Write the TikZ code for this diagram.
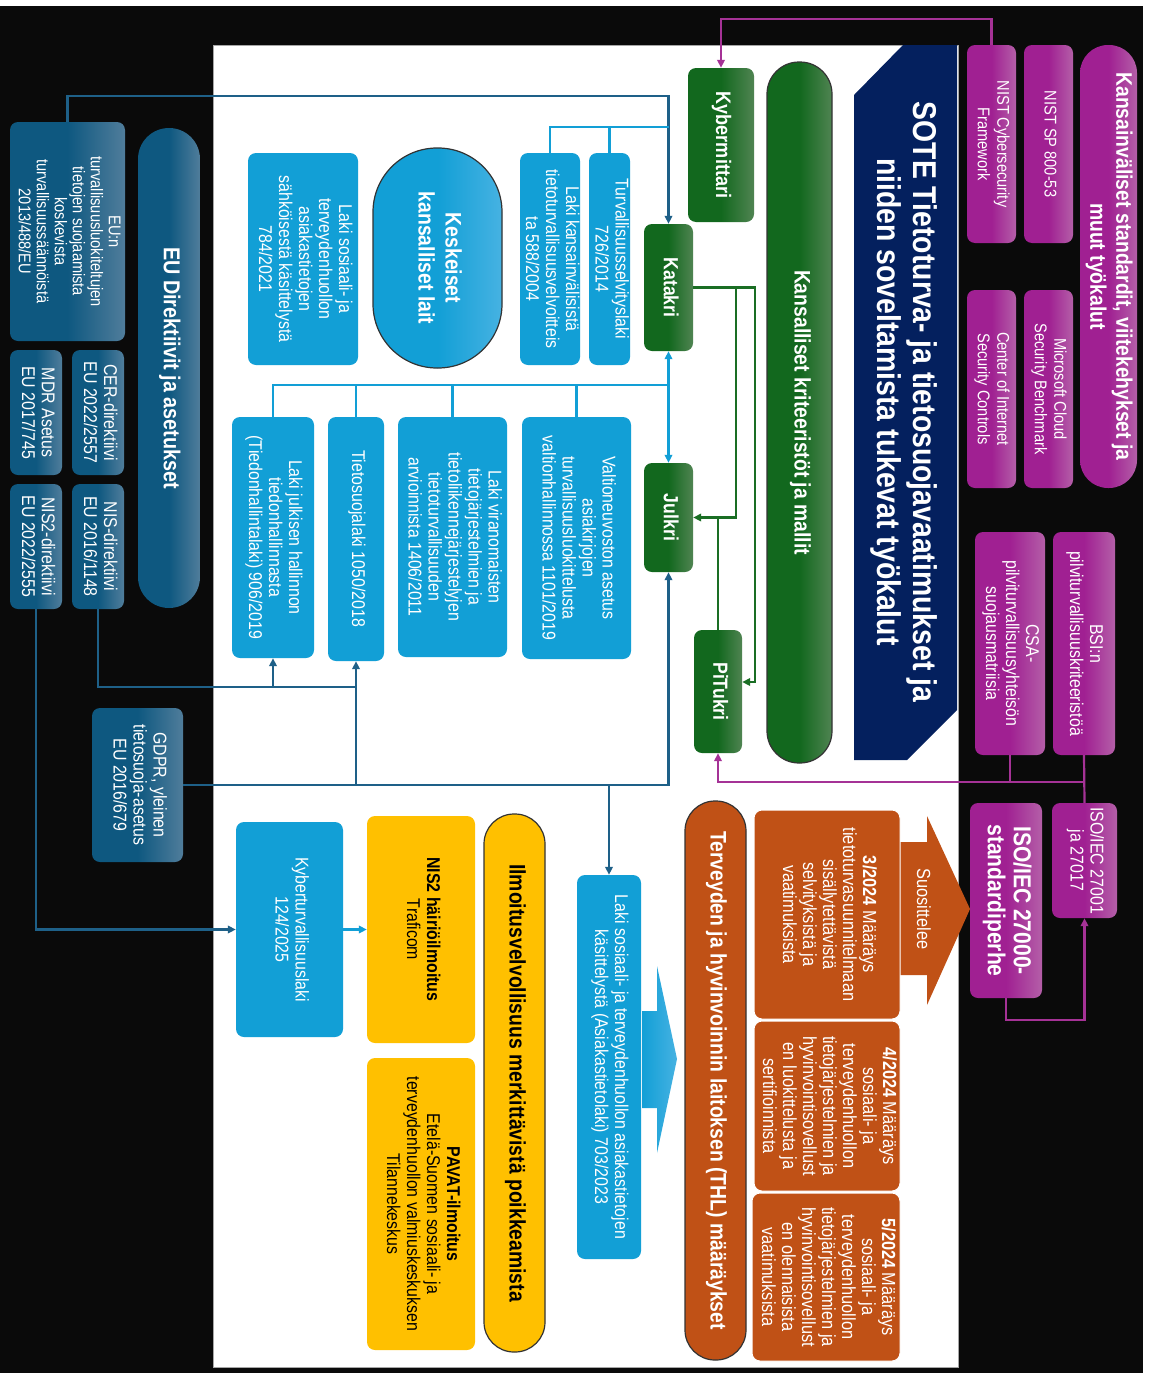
\documentclass[tikz,border=0pt]{standalone}
\usepackage{fontspec}
\setmainfont{Liberation Sans}[FakeStretch=0.86]
\usepackage{graphicx}
\usepackage{xcolor}
\usepackage{tikz}
\usetikzlibrary{arrows.meta,positioning,calc}

\definecolor{bgblack}{RGB}{10,10,10}
\definecolor{purpbase}{RGB}{160,32,146}
\definecolor{purplight}{RGB}{180,95,168}
\definecolor{grnbase}{RGB}{18,104,30}
\definecolor{grnlight}{RGB}{80,132,82}
\definecolor{navyblue}{RGB}{4,32,94}
\definecolor{lblue}{RGB}{18,159,214}
\definecolor{lbluelight}{RGB}{70,178,226}
\definecolor{eubase}{RGB}{14,88,128}
\definecolor{eulight}{RGB}{80,125,155}
\definecolor{thlorange}{RGB}{192,81,22}
\definecolor{ilmyellow}{RGB}{255,192,0}
\definecolor{dlinecol}{RGB}{30,96,136}
\definecolor{plinecol}{RGB}{165,50,150}
\definecolor{glinecol}{RGB}{26,110,36}

% text runs top to bottom in every box
\newcommand{\rottext}[1]{\rotatebox{-90}{\begin{tabular}{@{}c@{}}#1\end{tabular}}}

\tikzset{
  basebox/.style={rectangle, rounded corners=8pt, inner sep=0pt, text=white,
    font=\fontsize{18.5}{20}\selectfont},
  purplebox/.style={basebox, left color=purpbase, right color=purplight, middle color=purpbase},
  greenbox/.style={basebox, left color=grnbase, right color=grnlight, middle color=grnbase,
    font=\bfseries\fontsize{20.5}{23}\selectfont},
  eubox/.style={basebox, left color=eubase, right color=eulight, middle color=eubase},
  lawbox/.style={basebox, fill=lblue},
  yellowbox/.style={basebox, fill=ilmyellow, text=black},
  orangebox/.style={basebox, fill=thlorange, draw=white, line width=1pt,
    font=\fontsize{19}{20}\selectfont},
  pillshape/.style={rounded corners=#1},
  outlined/.style={draw=black!80, line width=1.2pt},
  pline/.style={draw=plinecol, line width=2.2pt},
  gline/.style={draw=glinecol, line width=2.2pt},
  dline/.style={draw=dlinecol, line width=2.2pt},
  bline/.style={draw=lblue, line width=2.2pt},
}

\begin{document}
\begin{tikzpicture}[x=1pt, y=-1pt, >={Triangle[length=8pt,width=7.5pt]}]
    \useasboundingbox (0,0) rectangle (1153,1373);
    \fill[white] (0,0) rectangle (1153,1373);
    \fill[bgblack] (0,6) rectangle (1143,1373);
    \filldraw[white, draw=gray!70] (213,45) rectangle (958,1367);

    % Title panel
    \fill[navyblue] (854,95) -- (903,45) -- (957,45) -- (957,710) -- (907,760) -- (854,760) -- cycle;
    \node[text=white, inner sep=0pt, font=\bfseries\fontsize{33}{36}\selectfont] (title) at (903,402)
        {\rottext{SOTE Tietoturva- ja tietosuojavaatimukset ja\\niiden soveltamista tukevat työkalut}};

    % International standards (purple)
    \node[purplebox, pillshape=28, minimum width=57, minimum height=443, font=\bfseries\fontsize{22.5}{26}\selectfont] (intl) at (1108.5,266.5)
        {\rottext{Kansainväliset standardit, viitekehykset ja\\muut työkalut}};
    \node[purplebox, minimum width=49, minimum height=198, font=\fontsize{17}{19.5}\selectfont] (nistsp) at (1048.5,144) {\rottext{NIST SP 800-53}};
    \node[purplebox, minimum width=49, minimum height=198, font=\fontsize{17}{19.5}\selectfont] (nistcsf) at (991.5,144) {\rottext{NIST Cybersecurity\\Framework}};
    \node[purplebox, minimum width=49, minimum height=198, font=\fontsize{17}{19.5}\selectfont] (mcsb) at (1048.5,389) {\rottext{Microsoft Cloud\\Security Benchmark}};
    \node[purplebox, minimum width=49, minimum height=198, font=\fontsize{17}{19.5}\selectfont] (cis) at (991.5,389) {\rottext{Center of Internet\\Security Controls}};
    \node[purplebox, minimum width=62, minimum height=223] (bsi) at (1084,643.5) {\rottext{BSI:n\\pilviturvallisuuskriteeristöä}};
    \node[purplebox, minimum width=70, minimum height=223] (csa) at (1010,643.5) {\rottext{CSA-\\pilviturvallisuusyhteisön\\suojausmatriisia}};
    \node[purplebox, minimum width=65, minimum height=115] (iso27001) at (1084.5,860.5) {\rottext{ISO/IEC 27001\\ja 27017}};
    \node[purplebox, minimum width=72, minimum height=195, font=\bfseries\fontsize{24.5}{26}\selectfont] (iso27000) at (1006,900.5) {\rottext{ISO/IEC 27000-\\standardiperhe}};

    % National criteria (green)
    \node[greenbox, minimum width=66, minimum height=154, font=\bfseries\fontsize{21}{24}\selectfont] (kyber) at (721,145) {\rottext{Kybermittari}};
    \node[greenbox, pillshape=32, outlined, minimum width=65, minimum height=701, font=\bfseries\fontsize{22.5}{25}\selectfont] (kriteerit) at (799.5,412.5)
        {\rottext{Kansalliset kriteeristöt ja mallit}};
    \node[greenbox, minimum width=49, minimum height=127] (katakri) at (668.5,287.5) {\rottext{Katakri}};
    \node[greenbox, minimum width=49, minimum height=109] (julkri) at (668.5,517.5) {\rottext{Julkri}};
    \node[greenbox, minimum width=48, minimum height=123] (pitukri) at (718,691.5) {\rottext{PiTukri}};

    % National laws (light blue)
    \node[lawbox, minimum width=41, minimum height=212] (turvsel) at (609.5,259) {\rottext{Turvallisuusselvityslaki\\726/2014}};
    \node[lawbox, minimum width=58, minimum height=212] (kvlaki) at (550,259) {\rottext{Laki kansainvälisistä\\tietoturvallisuusvelvoitteis\\ta 588/2004}};
    \node[lawbox, pillshape=64, outlined, left color=lblue, right color=lbluelight, middle color=lblue, minimum width=129, minimum height=220,
        font=\bfseries\fontsize{22.5}{27}\selectfont] (keskeiset) at (437.5,258) {\rottext{Keskeiset\\kansalliset lait}};
    \node[lawbox, minimum width=110, minimum height=212] (asiaksahk) at (303,259)
        {\rottext{Laki sosiaali- ja\\terveydenhuollon\\asiakastietojen\\sähköisestä käsittelystä\\784/2021}};
    \node[lawbox, minimum width=109, minimum height=242] (vnasetus) at (576.5,538)
        {\rottext{Valtioneuvoston asetus\\asiakirjojen\\turvallisuusluokittelusta\\valtionhallinnossa 1101/2019}};
    \node[lawbox, minimum width=109, minimum height=240] (viranom) at (452.5,537)
        {\rottext{Laki viranomaisten\\tietojärjestelmien ja\\tietoliikennejärjestelyjen\\tietoturvallisuuden\\arvioinnista 1406/2011}};
    \node[lawbox, minimum width=56, minimum height=244] (tietosuoja) at (356,539) {\rottext{Tietosuojalaki 1050/2018}};
    \node[lawbox, minimum width=82, minimum height=241] (tiedonh) at (273,537.5)
        {\rottext{Laki julkisen hallinnon\\tiedonhallinnasta\\(Tiedonhallintalaki) 906/2019}};
    \node[lawbox, minimum width=64, minimum height=384] (asiakastieto) at (609,1067)
        {\rottext{Laki sosiaali- ja terveydenhuollon asiakastietojen\\käsittelystä (Asiakastietolaki) 703/2023}};
    \node[lawbox, minimum width=107, minimum height=215] (kyberlaki) at (289.5,929.5) {\rottext{Kyberturvallisuuslaki\\124/2025}};
    \shade[left color=lblue, right color=lbluelight] (642,1011) -- (657,1011) -- (657,966) -- (677,1059) -- (657,1153) -- (657,1108) -- (642,1108) -- cycle;

    % EU directives (dark blue)
    \node[eubox, pillshape=31, minimum width=62, minimum height=480, font=\bfseries\fontsize{23}{26}\selectfont] (eutitle) at (169,368)
        {\rottext{EU Direktiivit ja asetukset}};
    \node[eubox, minimum width=115, minimum height=219, font=\fontsize{17}{18}\selectfont] (eun) at (67.5,231.5)
        {\rottext{EU:n\\turvallisuusluokiteltujen\\tietojen suojaamista\\koskevista\\turvallisuussäännöistä\\2013/488/EU}};
    \node[eubox, minimum width=52, minimum height=125] (cer) at (98,412.5) {\rottext{CER-direktiivi\\EU 2022/2557}};
    \node[eubox, minimum width=52, minimum height=125] (mdr) at (36,412.5) {\rottext{MDR Asetus\\EU 2017/745}};
    \node[eubox, minimum width=52, minimum height=125] (nis) at (98,546.5) {\rottext{NIS-direktiivi\\EU 2016/1148}};
    \node[eubox, minimum width=52, minimum height=125] (nis2) at (36,546.5) {\rottext{NIS2-direktiivi\\EU 2022/2555}};
    \node[eubox, minimum width=91, minimum height=154] (gdpr) at (137.5,785) {\rottext{GDPR, yleinen\\tietosuoja-asetus\\EU 2016/679}};

    % Reporting (yellow)
    \node[yellowbox, pillshape=30, outlined, minimum width=61, minimum height=538, font=\bfseries\fontsize{22.5}{25}\selectfont] (ilmoitus) at (514.5,1083)
        {\rottext{Ilmoitusvelvollisuus merkittävistä poikkeamista}};
    \node[yellowbox, minimum width=108, minimum height=227] (nis2ilm) at (421,929.5) {\rottext{\textbf{NIS2 häiriöilmoitus}\\Traficom}};
    \node[yellowbox, minimum width=108, minimum height=292] (pavat) at (421,1204)
        {\rottext{\textbf{PAVAT-ilmoitus}\\Etelä-Suomen sosiaali- ja\\terveydenhuollon valmiuskeskuksen\\Tilannekeskus}};

    % THL regulations (orange)
    \fill[thlorange] (880,842) -- (927,842) -- (927,816) -- (970,909) -- (927,1005) -- (927,975) -- (880,975) -- cycle;
    \node[text=white, inner sep=0pt, font=\fontsize{19}{20}\selectfont] (suos) at (921,909) {\rottext{Suosittelee}};
    \node[orangebox, pillshape=30, outlined, minimum width=61, minimum height=559, font=\bfseries\fontsize{22.5}{25}\selectfont] (thl) at (715.5,1080.5)
        {\rottext{Terveyden ja hyvinvoinnin laitoksen (THL) määräykset}};
    \node[orangebox, minimum width=146, minimum height=209] (m3) at (827,914.5)
        {\rottext{\textbf{3/2024} Määräys\\tietoturvasuunnitelmaan\\sisällytettävistä\\selvityksistä ja\\vaatimuksista}};
    \node[orangebox, minimum width=146, minimum height=170] (m4) at (827,1106)
        {\rottext{\textbf{4/2024} Määräys\\sosiaali- ja\\terveydenhuollon\\tietojärjestelmien ja\\hyvinvointisovellust\\en luokittelusta ja\\sertifioinnista}};
    \node[orangebox, minimum width=148, minimum height=168] (m5) at (826,1277)
        {\rottext{\textbf{5/2024} Määräys\\sosiaali- ja\\terveydenhuollon\\tietojärjestelmien ja\\hyvinvointisovellust\\en olennaisista\\vaatimuksista}};

    % Purple connectors
    \draw[pline,->] (nistcsf.north) -- ++(0,-26) -| (kyber.north);
    \draw[pline,->] (bsi.south) -- ++(0,27) -| (pitukri.south);
    \draw[pline] (csa.south) -- ++(0,27);
    \draw[pline] (bsi.south) -- (iso27001.north);
    \draw[pline,->] (iso27000.south) -- ++(0,22) -| (iso27001.south);

    % Green connectors
    \draw[gline,->] (katakri.east) -- ++(62,0) |- ([yshift=9.5pt]pitukri.east);
    \draw[gline,->] ($(katakri.east)+(43,0)$) |- (julkri.east);
    \draw[gline] (pitukri.north) -- (pitukri.north |- julkri.east);

    % Law connectors
    \draw[dline,->] (eun.north) -- ++(0,-26) -| (katakri.north);
    \draw[bline] (kvlaki.north) |- ($(katakri.north)+(0,-97)$);
    \draw[bline] (turvsel.north) -- ++(0,-26);
    \coordinate (lawbus) at ($(katakri.south)+(0,34)$);
    \draw[bline] (tiedonh.north) |- (lawbus);
    \foreach \n in {tietosuoja,viranom,vnasetus}
        \draw[bline] (\n.north) -- (\n.north |- lawbus);
    \draw[bline,<->] (katakri.south) -- (julkri.north);

    % EU connectors
    \coordinate (nisbus) at ($(nis.south)+(0,78)$);
    \draw[dline,->] (nis.south) -- (nisbus) -| (tiedonh.south);
    \draw[dline] (nisbus -| tiedonh.south) -- (nisbus -| tietosuoja.south);
    \draw[dline,->] (gdpr.east -| tietosuoja.south) -- (tietosuoja.south);
    \draw[dline,->] (gdpr.east) -| (julkri.south);
    \draw[dline,->] (gdpr.east -| asiakastieto.north) -- (asiakastieto.north);
    \draw[dline,->] (nis2.south) |- (kyberlaki.west);
    \draw[bline,->] (kyberlaki.east) -- (nis2ilm.west);
\end{tikzpicture}
\end{document}
